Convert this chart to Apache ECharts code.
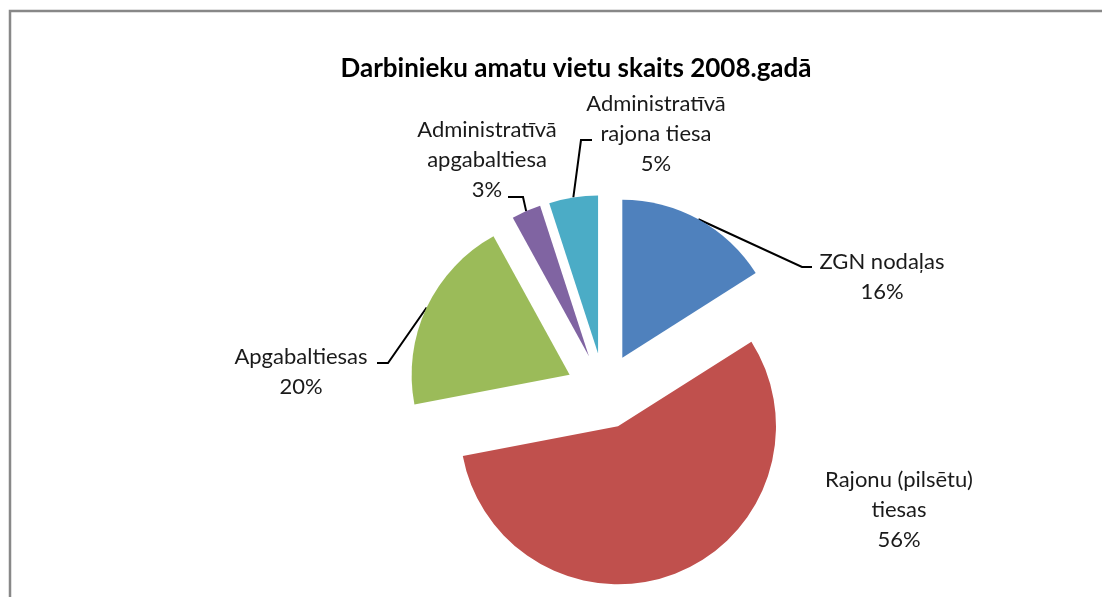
<!DOCTYPE html>
<html>
<head>
<meta charset="utf-8">
<title>Darbinieku amatu vietu skaits 2008.gadā</title>
<script src="https://cdn.jsdelivr.net/npm/echarts@6/dist/echarts.min.js"></script>
<style>
  html, body { margin: 0; padding: 0; background: #fff; }
  #chart { width: 1102px; height: 597px; }
</style>
</head>
<body>
<div id="chart"></div>
<script>
// dati
const categories = [
  "ZGN nodaļas",
  "Rajonu (pilsētu)\ntiesas",
  "Apgabaltiesas",
  "Administratīvā\napgabaltiesa",
  "Administratīvā\nrajona tiesa",
];
const shares = [16, 56, 20, 3, 5];
const colors = ["#4F81BD", "#C0504D", "#9BBB59", "#8064A2", "#4BACC6"];

// izkārtojums
const CX = 604, CY = 391, R = 158, OFFSET = 38;
const labelAt = [[882, 277], [899, 510], [301, 372], [487, 160], [656, 134]];
const leaderBend = [
  [[802, 267], [812, 267]],
  null,
  [[388, 363], [377, 363]],
  [[523, 197], [508, 197]],
  [[581, 140], [592, 140]],
];

const total = shares.reduce((a, b) => a + b, 0);
const midAngles = [];
let acc = 0;
shares.forEach((v) => {
  const start = 90 - (360 * acc) / total;
  midAngles.push(((start - (180 * v) / total) * Math.PI) / 180);
  acc += v;
});

// katrs sektors ir atsevišķa sērija ar nobīdītu centru (izvirzīts sektors)
const series = categories.map((_, k) => {
  const a = midAngles[k];
  const cx = CX + OFFSET * Math.cos(a);
  const cy = CY - OFFSET * Math.sin(a);
  return {
    type: "pie",
    center: [cx, cy],
    radius: R,
    startAngle: 90,
    avoidLabelOverlap: false,
    emphasis: { disabled: true },
    itemStyle: { borderWidth: 0 },
    label: {
      show: true,
      formatter: "{b}\n{d}%",
      fontFamily: "Lato",
      fontSize: 22,
      lineHeight: 30,
      color: "#1a1a1a",
    },
    labelLine: {
      show: true,
      lineStyle: { color: "#000", width: 2 },
    },
    labelLayout: (params) => {
      if (params.dataIndex !== k) return {};
      const out = {
        x: labelAt[k][0],
        y: labelAt[k][1],
        align: "center",
        verticalAlign: "middle",
      };
      if (leaderBend[k]) {
        const start = [cx + R * Math.cos(a), cy - R * Math.sin(a)];
        out.labelLinePoints = [start, leaderBend[k][0], leaderBend[k][1]];
      }
      return out;
    },
    data: categories.map((name, i) =>
      i === k
        ? {
            name,
            value: shares[i],
            itemStyle: { color: colors[i] },
            labelLine: { show: leaderBend[i] !== null },
          }
        : {
            name,
            value: shares[i],
            itemStyle: { color: "rgba(0,0,0,0)" },
            label: { show: false },
            labelLine: { show: false },
          }
    ),
  };
});

const chart = echarts.init(document.getElementById("chart"));
chart.setOption({
  animation: false,
  title: {
    text: "Darbinieku amatu vietu skaits 2008.gadā",
    left: 571,
    top: 64,
    textAlign: "center",
    textVerticalAlign: "middle",
    textStyle: {
      fontFamily: "Lato",
      fontWeight: "bold",
      fontSize: 26,
      color: "#000",
    },
  },
  graphic: [
    {
      type: "rect",
      shape: { x: 10, y: 11, width: 1200, height: 700 },
      style: { fill: null, stroke: "#888", lineWidth: 2.5 },
      silent: true,
    },
  ],
  series,
});
</script>
</body>
</html>
